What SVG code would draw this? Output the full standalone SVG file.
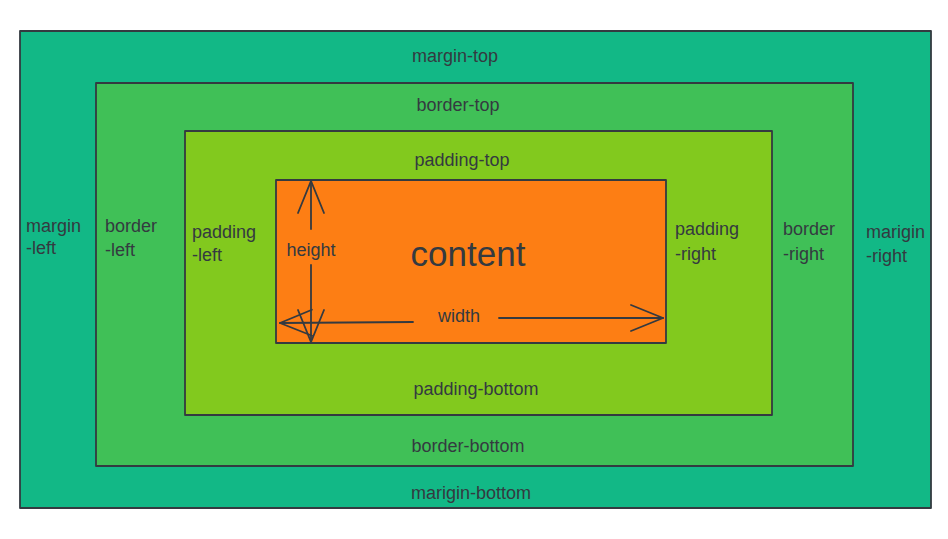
<svg xmlns="http://www.w3.org/2000/svg" width="948" height="539" viewBox="0 0 948 539">
<style>
.box{stroke:#343a40;stroke-width:1.8;stroke-linejoin:round}
.lbl{font-family:"Liberation Sans","DejaVu Sans",sans-serif;font-size:18px;fill:#343a40}
.mid{text-anchor:middle}
.conn{stroke:#343a40;stroke-width:1.8;fill:none;stroke-linecap:round}
</style>
<defs>
<marker id="arr" viewBox="0 0 34 30" refX="33" refY="15" markerWidth="34" markerHeight="30" markerUnits="userSpaceOnUse" orient="auto">
<path d="M1,2 L33,15 L1,28" fill="none" stroke="#343a40" stroke-width="1.8" stroke-linecap="round"/>
</marker>
</defs>
<rect width="948" height="539" fill="#ffffff"/>
<g id="margin">
<rect class="box" x="20" y="31" width="911" height="477" fill="#12b886"/>
<text class="lbl mid" x="455" y="62">margin-top</text>
<text class="lbl mid" x="471" y="499">marigin-bottom</text>
<text class="lbl" x="26" y="232">margin</text>
<text class="lbl" x="26" y="254">-left</text>
<text class="lbl" x="866" y="238">marigin</text>
<text class="lbl" x="866" y="262">-right</text>
</g>
<g id="border">
<rect class="box" x="96" y="83" width="757" height="383" fill="#40c057"/>
<text class="lbl mid" x="458" y="111">border-top</text>
<text class="lbl mid" x="468" y="452">border-bottom</text>
<text class="lbl" x="105" y="232">border</text>
<text class="lbl" x="105" y="256">-left</text>
<text class="lbl" x="783" y="235">border</text>
<text class="lbl" x="783" y="260">-right</text>
</g>
<g id="padding">
<rect class="box" x="185" y="131" width="587" height="284" fill="#82c91e"/>
<text class="lbl mid" x="462" y="166">padding-top</text>
<text class="lbl mid" x="476" y="395">padding-bottom</text>
<text class="lbl" x="192" y="238">padding</text>
<text class="lbl" x="192" y="261">-left</text>
<text class="lbl" x="675" y="235">padding</text>
<text class="lbl" x="675" y="260">-right</text>
</g>
<g id="content">
<rect class="box" x="276" y="180" width="390" height="163" fill="#fd7e14"/>
<text class="lbl mid" x="468" y="266" style="font-size:35px">content</text>
<text class="lbl mid" x="311" y="256">height</text>
<text class="lbl mid" x="459" y="322">width</text>
</g>
<g id="connectors">
<path class="conn" d="M311,229 L311,181" marker-end="url(#arr)"/>
<path class="conn" d="M311,265 L311,342" marker-end="url(#arr)"/>
<path class="conn" d="M413,322 L280,323" marker-end="url(#arr)"/>
<path class="conn" d="M499,318 L663,318" marker-end="url(#arr)"/>
</g>
</svg>
